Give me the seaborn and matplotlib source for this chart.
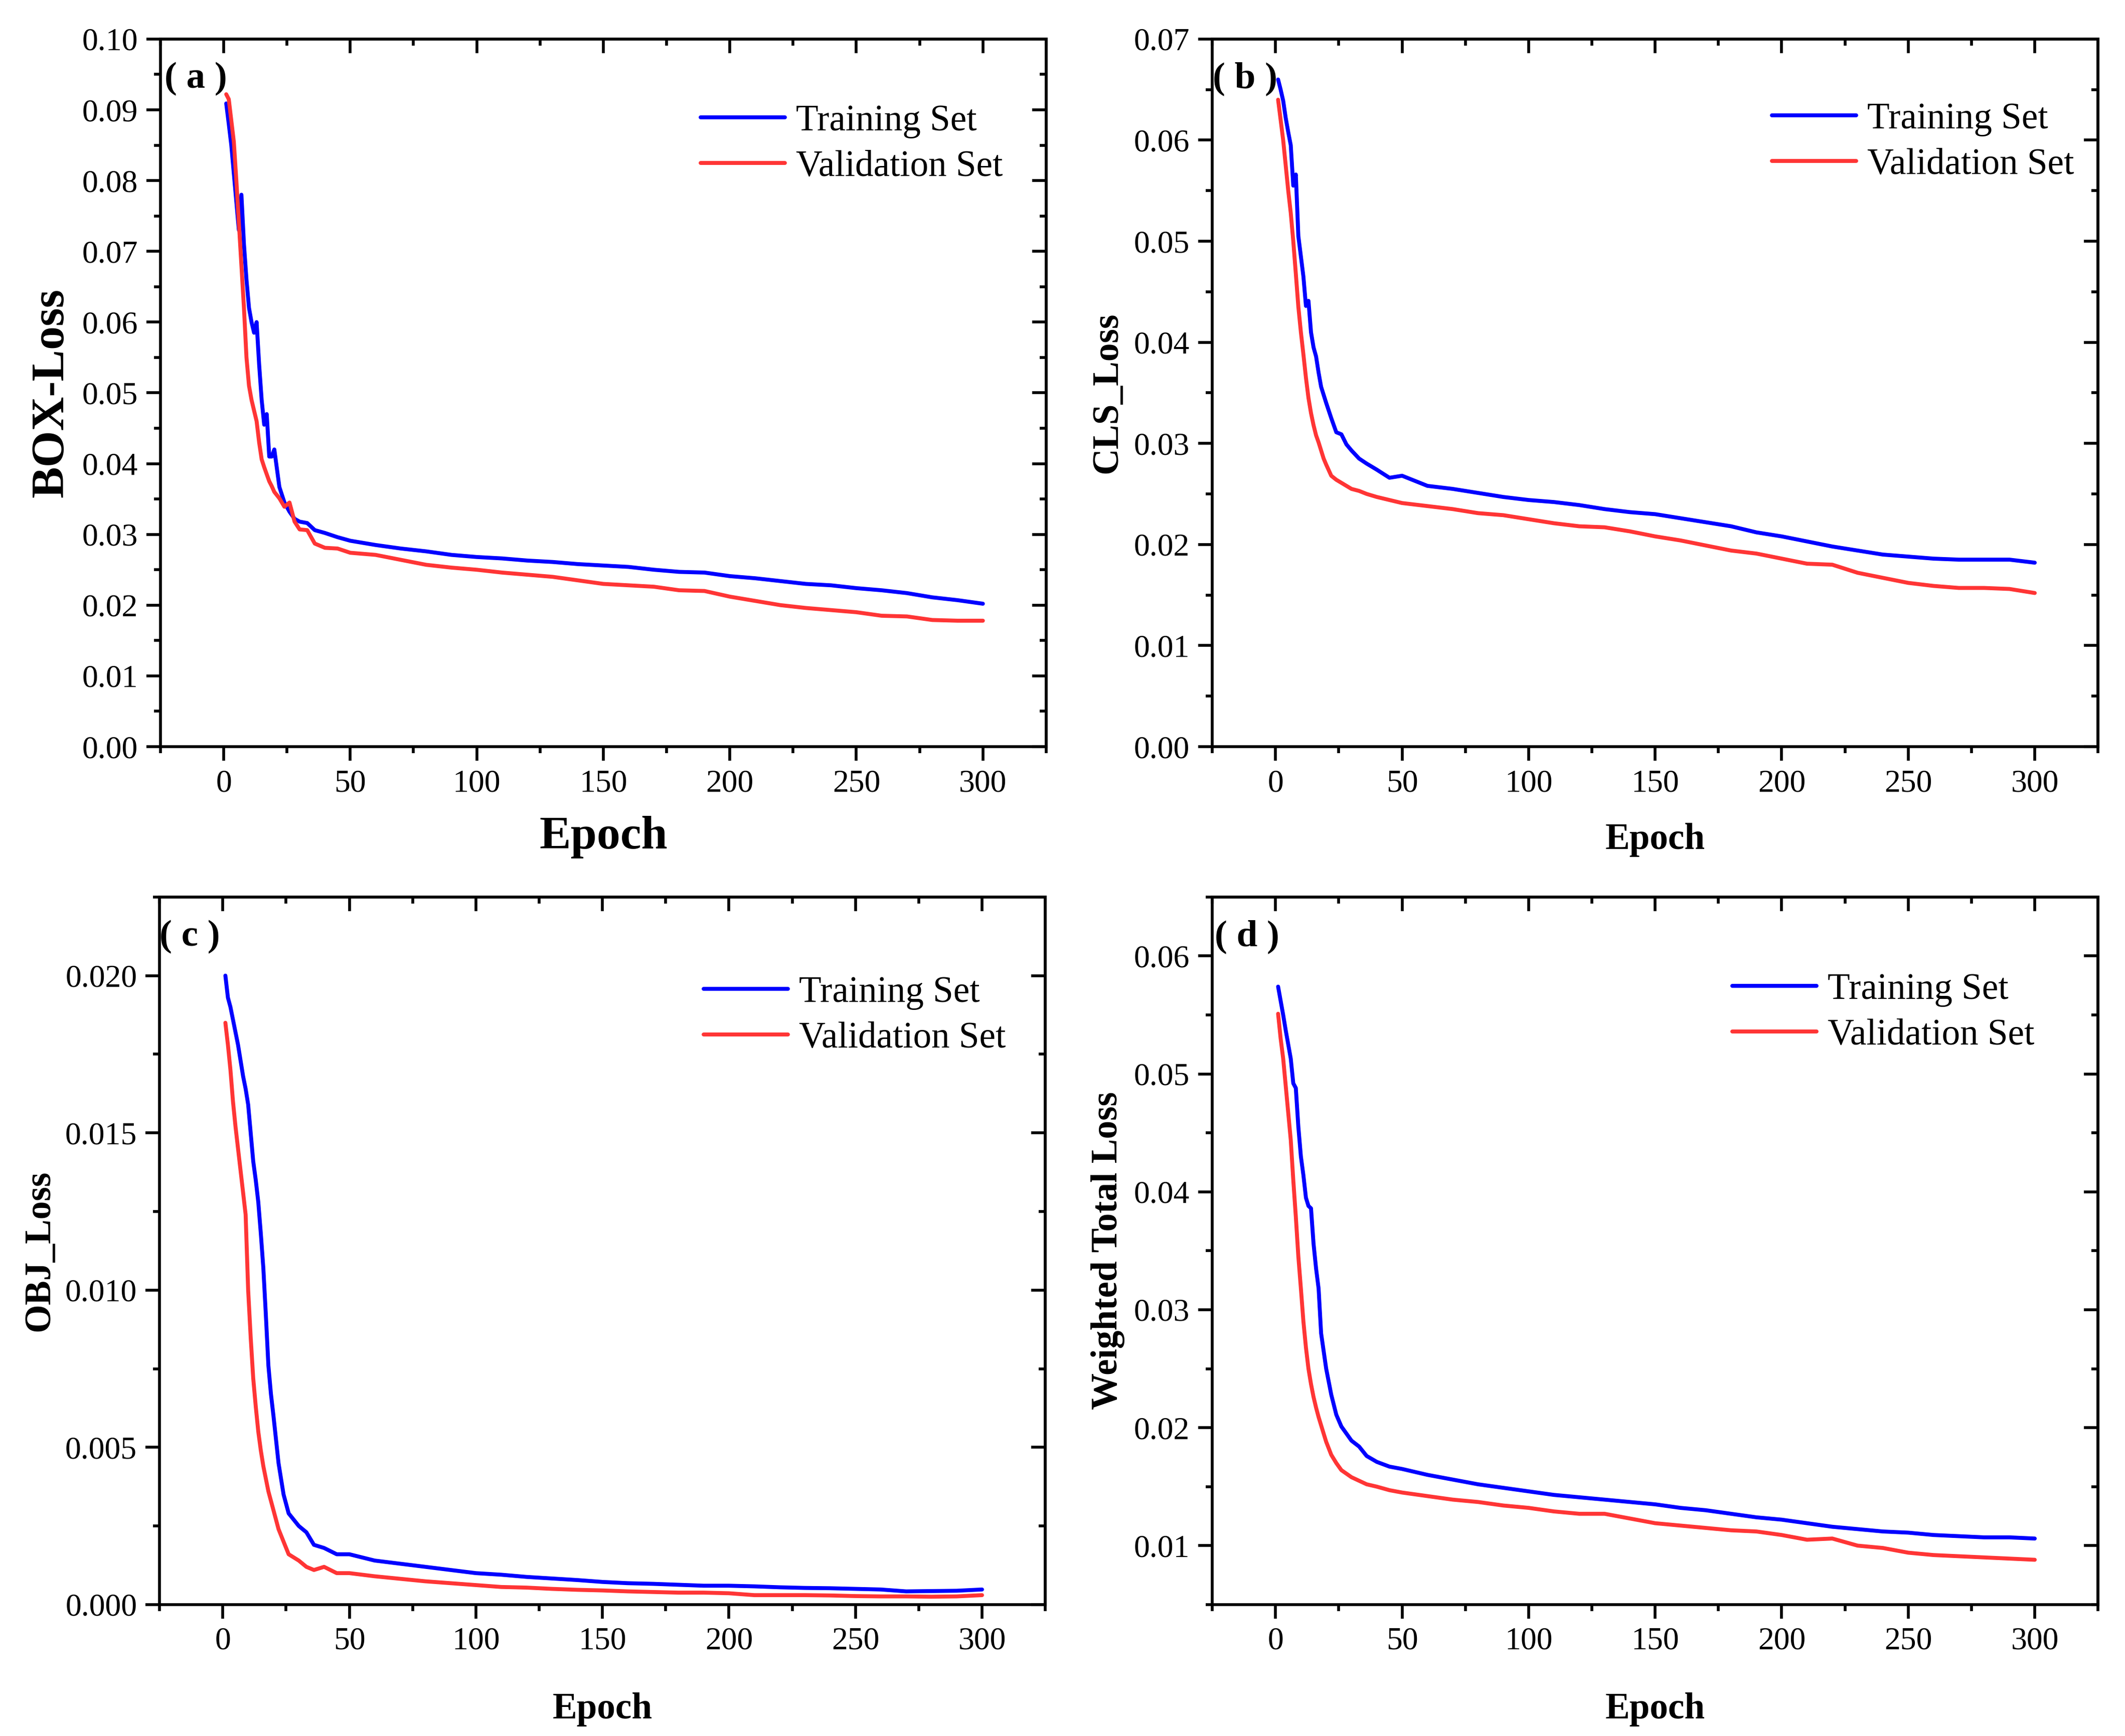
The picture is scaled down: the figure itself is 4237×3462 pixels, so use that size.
import matplotlib
matplotlib.use('Agg')
import matplotlib.pyplot as plt
from matplotlib.ticker import MultipleLocator, FormatStrFormatter
import seaborn as sns
import pandas as pd

epochs = [1, 2, 3, 4, 5, 6, 7, 8, 9, 10, 11, 12, 13, 14, 15, 16, 17, 18, 19, 20,
          22, 24, 26, 28, 30, 33, 36, 40, 45, 50, 60, 70, 80, 90, 100, 110, 120,
          130, 140, 150, 160, 170, 180, 190, 200, 210, 220, 230, 240, 250, 260,
          270, 280, 290, 300]

box_train = [0.0909, 0.0880, 0.0850, 0.0810, 0.0770, 0.0730, 0.0780, 0.0710, 0.0660, 0.0620,
             0.0600, 0.0585, 0.0600, 0.0540, 0.0490, 0.0455, 0.0470, 0.0410, 0.0410, 0.0420,
             0.0367, 0.0345, 0.0332, 0.0322, 0.0318, 0.0316, 0.0306, 0.0302, 0.0296, 0.0291,
             0.0285, 0.0280, 0.0276, 0.0271, 0.0268, 0.0266, 0.0263, 0.0261, 0.0258, 0.0256,
             0.0254, 0.0250, 0.0247, 0.0246, 0.0241, 0.0238, 0.0234, 0.0230, 0.0228, 0.0224,
             0.0221, 0.0217, 0.0211, 0.0207, 0.0202]
box_val = [0.0922, 0.0915, 0.0885, 0.0855, 0.0800, 0.0740, 0.0680, 0.0620, 0.0550, 0.0510,
           0.0490, 0.0475, 0.0460, 0.0430, 0.0406, 0.0395, 0.0385, 0.0375, 0.0368, 0.0360,
           0.0351, 0.0339, 0.0345, 0.0318, 0.0307, 0.0306, 0.0287, 0.0281, 0.0280, 0.0274,
           0.0271, 0.0264, 0.0257, 0.0253, 0.0250, 0.0246, 0.0243, 0.0240, 0.0235, 0.0230,
           0.0228, 0.0226, 0.0221, 0.0220, 0.0212, 0.0206, 0.0200, 0.0196, 0.0193, 0.0190,
           0.0185, 0.0184, 0.0179, 0.0178, 0.0178]

cls_train = [0.0660, 0.0650, 0.0639, 0.0622, 0.0608, 0.0595, 0.0555, 0.0566, 0.0505, 0.0485,
             0.0465, 0.0436, 0.0441, 0.0410, 0.0395, 0.0386, 0.0370, 0.0356, 0.0348, 0.0340,
             0.0325, 0.0311, 0.0309, 0.0299, 0.0293, 0.0285, 0.0280, 0.0274, 0.0266, 0.0268,
             0.0258, 0.0255, 0.0251, 0.0247, 0.0244, 0.0242, 0.0239, 0.0235, 0.0232, 0.0230,
             0.0226, 0.0222, 0.0218, 0.0212, 0.0208, 0.0203, 0.0198, 0.0194, 0.0190, 0.0188,
             0.0186, 0.0185, 0.0185, 0.0185, 0.0182]
cls_val = [0.0640, 0.0620, 0.0600, 0.0575, 0.0550, 0.0528, 0.0500, 0.0468, 0.0435, 0.0410,
           0.0388, 0.0365, 0.0345, 0.0330, 0.0318, 0.0308, 0.0301, 0.0293, 0.0285, 0.0279,
           0.0268, 0.0264, 0.0261, 0.0258, 0.0255, 0.0253, 0.0250, 0.0247, 0.0244, 0.0241,
           0.0238, 0.0235, 0.0231, 0.0229, 0.0225, 0.0221, 0.0218, 0.0217, 0.0213, 0.0208,
           0.0204, 0.0199, 0.0194, 0.0191, 0.0186, 0.0181, 0.0180, 0.0172, 0.0167, 0.0162,
           0.0159, 0.0157, 0.0157, 0.0156, 0.0152]

obj_train = [0.0200, 0.0193, 0.0190, 0.0186, 0.0182, 0.0178, 0.0173, 0.0168, 0.0164, 0.0159,
             0.0150, 0.0141, 0.0135, 0.0128, 0.0118, 0.0107, 0.0092, 0.0076, 0.0067, 0.0060,
             0.0045, 0.0035, 0.0029, 0.0027, 0.0025, 0.0023, 0.0019, 0.0018, 0.0016, 0.0016,
             0.0014, 0.0013, 0.0012, 0.0011, 0.0010, 0.00095, 0.00088, 0.00083, 0.00078, 0.00072,
             0.00068, 0.00066, 0.00063, 0.00060, 0.00060, 0.00058, 0.00055, 0.00053, 0.00052, 0.00050,
             0.00048, 0.00042, 0.00043, 0.00044, 0.00048]
obj_val = [0.0185, 0.0178, 0.0170, 0.0160, 0.0152, 0.0145, 0.0138, 0.0131, 0.0124, 0.0100,
           0.0085, 0.0072, 0.0063, 0.0055, 0.0049, 0.0044, 0.0040, 0.0036, 0.0033, 0.0030,
           0.0024, 0.0020, 0.0016, 0.0015, 0.0014, 0.0012, 0.0011, 0.0012, 0.0010, 0.0010,
           0.0009, 0.00082, 0.00074, 0.00068, 0.00062, 0.00056, 0.00054, 0.00050, 0.00047, 0.00045,
           0.00042, 0.00040, 0.00038, 0.00038, 0.00036, 0.00030, 0.00030, 0.00030, 0.00029, 0.00027,
           0.00026, 0.00026, 0.00025, 0.00026, 0.00030]

total_train = [0.0574, 0.0562, 0.0550, 0.0537, 0.0525, 0.0513, 0.0492, 0.0488, 0.0455, 0.0430,
               0.0414, 0.0395, 0.0388, 0.0386, 0.0356, 0.0335, 0.0318, 0.0280, 0.0265, 0.0250,
               0.0228, 0.0211, 0.0201, 0.0195, 0.0189, 0.0184, 0.0176, 0.0171, 0.0167, 0.0165,
               0.0160, 0.0156, 0.0152, 0.0149, 0.0146, 0.0143, 0.0141, 0.0139, 0.0137, 0.0135,
               0.0132, 0.0130, 0.0127, 0.0124, 0.0122, 0.0119, 0.0116, 0.0114, 0.0112, 0.0111,
               0.0109, 0.0108, 0.0107, 0.0107, 0.0106]
total_val = [0.0551, 0.0530, 0.0513, 0.0490, 0.0467, 0.0444, 0.0410, 0.0379, 0.0345, 0.0318,
             0.0290, 0.0268, 0.0250, 0.0237, 0.0226, 0.0217, 0.0209, 0.0202, 0.0195, 0.0188,
             0.0177, 0.0170, 0.0164, 0.0161, 0.0158, 0.0155, 0.0152, 0.0150, 0.0147, 0.0145,
             0.0142, 0.0139, 0.0137, 0.0134, 0.0132, 0.0129, 0.0127, 0.0127, 0.0123, 0.0119,
             0.0117, 0.0115, 0.0113, 0.0112, 0.0109, 0.0105, 0.0106, 0.0100, 0.0098, 0.0094,
             0.0092, 0.0091, 0.0090, 0.0089, 0.0088]

panel_tags = ['a', 'b', 'c', 'd']
y_labels = ['BOX-Loss', 'CLS_Loss', 'OBJ_Loss', 'Weighted Total Loss']
series_names = ['Training Set', 'Validation Set']

sns.set_style('ticks')
plt.rcParams['font.family'] = ['Liberation Serif', 'DejaVu Serif']
for key in ['text.color', 'axes.labelcolor', 'xtick.color', 'ytick.color', 'axes.edgecolor']:
    plt.rcParams[key] = 'black'

BLUE = '#0000FF'
RED = '#FF3535'

fig = plt.figure(figsize=(4237 / 270, 3462 / 270), dpi=270)
W, H = 0.4168, 0.4076
boxes = [(0.0755, 0.5699), (0.5705, 0.5699), (0.0751, 0.0757), (0.5705, 0.0757)]

# per-panel settings: data, y range, major step, tick format, label sizes, positions
panels = [
    dict(tr=box_train, va=box_val, ylim=(0, 0.10), step=0.01, fmt='%.2f',
         lab_fs=25, ylx=-0.123, xly=-0.128, leg=(0.610, 0.889), tag_x=0.040),
    dict(tr=cls_train, va=cls_val, ylim=(0, 0.07), step=0.01, fmt='%.2f',
         lab_fs=19.5, ylx=-0.118, xly=-0.132, leg=(0.632, 0.892), tag_x=0.037),
    dict(tr=obj_train, va=obj_val, ylim=(0, 0.0225), step=0.005, fmt='%.3f',
         lab_fs=19.5, ylx=-0.135, xly=-0.148, leg=(0.614, 0.870), tag_x=0.034),
    dict(tr=total_train, va=total_val, ylim=(0.005, 0.065), step=0.01, fmt='%.2f',
         lab_fs=19.5, ylx=-0.118, xly=-0.148, leg=(0.587, 0.874), tag_x=0.039),
]

for i, p in enumerate(panels):
    ax = fig.add_axes([boxes[i][0], boxes[i][1], W, H])
    df = pd.DataFrame({'Epoch': epochs, 'train': p['tr'], 'val': p['va']})
    sns.lineplot(data=df, x='Epoch', y='train', ax=ax, color=BLUE, lw=2.1,
                 label=series_names[0])
    sns.lineplot(data=df, x='Epoch', y='val', ax=ax, color=RED, lw=2.1,
                 label=series_names[1])

    ax.set_xlim(-25, 325)
    ax.set_ylim(*p['ylim'])
    ax.xaxis.set_major_locator(MultipleLocator(50))
    ax.xaxis.set_minor_locator(MultipleLocator(25))
    ax.yaxis.set_major_locator(MultipleLocator(p['step']))
    ax.yaxis.set_minor_locator(MultipleLocator(p['step'] / 2))
    ax.yaxis.set_major_formatter(FormatStrFormatter(p['fmt']))
    ax.tick_params(which='major', direction='out', length=7.5, width=1.5,
                   labelsize=17, pad=4.5, color='black', labelcolor='black')
    ax.tick_params(which='minor', direction='out', length=3.5, width=1.5, color='black')
    for s in ax.spines.values():
        s.set_visible(True)
        s.set_linewidth(1.5)
        s.set_color('black')

    # inward ticks on top and right, like the original
    top = ax.secondary_xaxis('top')
    top.xaxis.set_major_locator(MultipleLocator(50))
    top.xaxis.set_minor_locator(MultipleLocator(25))
    top.tick_params(which='major', direction='in', length=7.5, width=1.5, labeltop=False)
    top.tick_params(which='minor', direction='in', length=3.5, width=1.5)
    top.spines['top'].set_linewidth(1.5)
    right = ax.secondary_yaxis('right')
    right.yaxis.set_major_locator(MultipleLocator(p['step']))
    right.yaxis.set_minor_locator(MultipleLocator(p['step'] / 2))
    right.tick_params(which='major', direction='in', length=7.5, width=1.5, labelright=False)
    right.tick_params(which='minor', direction='in', length=3.5, width=1.5)
    right.spines['right'].set_linewidth(1.5)

    ax.set_ylabel(y_labels[i], fontsize=p['lab_fs'], fontweight='bold', va='center')
    ax.yaxis.set_label_coords(p['ylx'], 0.5)
    ax.set_xlabel('Epoch', fontsize=p['lab_fs'], fontweight='bold', va='center')
    ax.xaxis.set_label_coords(0.5, p['xly'])

    ax.legend(loc='upper left', bbox_to_anchor=(p['leg'][0], p['leg'][1] + 0.0185),
              frameon=False, fontsize=19.5, handlelength=2.3, handletextpad=0.3,
              labelspacing=0.32, borderpad=0, borderaxespad=0)

    ax.text(p['tag_x'], 0.944, '( ' + panel_tags[i] + ' )', transform=ax.transAxes,
            ha='center', va='center', fontsize=20, fontweight='bold')

fig.savefig('out.png', dpi=270)
